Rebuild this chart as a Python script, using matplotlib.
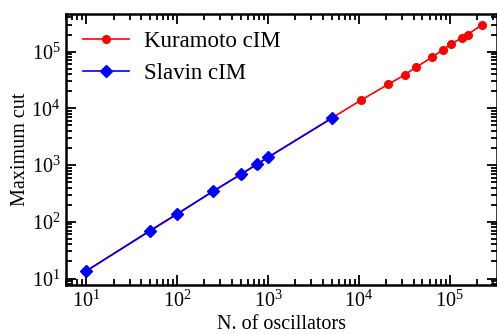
import numpy as np
import matplotlib
matplotlib.use("Agg")
import matplotlib.pyplot as plt
from matplotlib.ticker import LogLocator, NullFormatter

plt.rcParams['font.family'] = ['Liberation Serif', 'DejaVu Serif']
plt.rcParams['mathtext.fontset'] = 'custom'
plt.rcParams['mathtext.rm'] = 'Liberation Serif'

# Kuramoto cIM (red circles)
kura_n = [10, 50, 100, 250, 500, 750, 1000, 5000,
          1.05e4, 2.1e4, 3.2e4, 4.2e4, 6.4e4, 8.4e4, 1.04e5, 1.35e5, 1.57e5, 2.25e5]
kura_cut = [13.5, 70, 138, 345, 680, 1020, 1370, 6700,
            1.39e4, 2.65e4, 3.9e4, 5.25e4, 8.0e4, 1.08e5, 1.37e5, 1.75e5, 2.0e5, 2.96e5]

# Slavin cIM (blue diamonds)
slav_n = [10, 50, 100, 250, 500, 750, 1000, 5000]
slav_cut = [13.6, 68.5, 137, 348, 686, 1030, 1367, 6670]

fig = plt.figure(figsize=(4.97, 3.34), dpi=100)
ax = fig.add_axes([66/497, 49/334, 431/497, 271/334])

ax.plot(kura_n, kura_cut, color='red', marker='o', markersize=5.5, lw=1.2, label='Kuramoto cIM')
ax.plot(slav_n, slav_cut, color='blue', marker='D', markersize=6, lw=1.2, label='Slavin cIM')

ax.set_xscale('log')
ax.set_yscale('log')
ax.set_xlim(6.0, 3.3e5)
ax.set_ylim(7.7, 4.6e5)

for a in (ax.xaxis, ax.yaxis):
    a.set_major_locator(LogLocator(base=10, numticks=20))
    a.set_minor_locator(LogLocator(base=10, subs=np.arange(2, 10), numticks=20))
    a.set_minor_formatter(NullFormatter())

ax.tick_params(which='both', direction='in', top=True, right=True, labelsize=14.5, width=1.3)
ax.tick_params(which='major', length=7, pad=4)
ax.tick_params(which='minor', length=4)
for s in ax.spines.values():
    s.set_linewidth(1.8)

ax.set_xlabel('N. of oscillators', fontsize=14.5, labelpad=2)
ax.set_ylabel('Maximum cut', fontsize=14.5, labelpad=1)

ax.legend(loc='upper left', frameon=False, fontsize=16.5, handlelength=2.0,
          handletextpad=0.65, borderaxespad=0.35, labelspacing=0.45)

fig.savefig('out.png', dpi=100)
